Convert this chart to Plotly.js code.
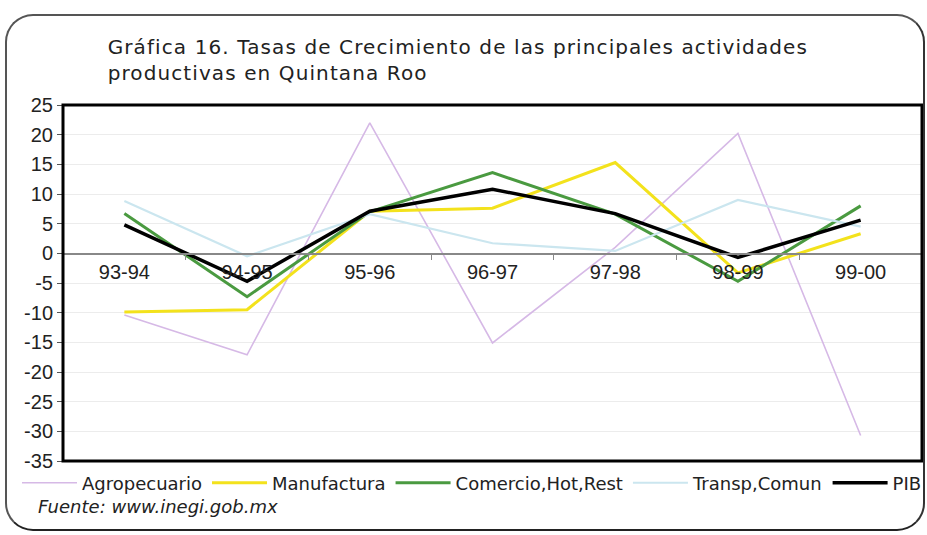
<!DOCTYPE html>
<html>
<head>
<meta charset="utf-8">
<script src="https://cdn.plot.ly/plotly-3.0.1.min.js"></script>
<style>
html,body{margin:0;padding:0;background:#fff;}
#wrap{position:relative;width:927px;height:535px;overflow:hidden;}
#frame{position:absolute;left:5px;top:14px;width:916px;height:513px;border:2px solid #555;border-bottom-color:#222;border-right-color:#333;border-radius:28px;pointer-events:none;}
#chart{position:absolute;left:0;top:0;width:927px;height:535px;}
#chart .gtitle{letter-spacing:1.1px;}
</style>
</head>
<body>
<div id="wrap">
<div id="chart"></div>
<div id="frame"></div>
</div>
<script>
const categories = ["93-94","94-95","95-96","96-97","97-98","98-99","99-00"];
const agropecuario = [-10.4, -17.1, 22.0, -15.1, 1.0, 20.2, -30.7];
const manufactura  = [-9.9, -9.5, 7.1, 7.6, 15.3, -3.3, 3.3];
const comercio     = [6.7, -7.3, 7.0, 13.6, 6.6, -4.7, 8.0];
const transp       = [8.8, -0.5, 6.6, 1.7, 0.4, 9.0, 4.5];
const pib          = [4.8, -4.7, 7.1, 10.8, 6.7, -0.7, 5.6];
const yTicks = [25,20,15,10,5,0,-5,-10,-15,-20,-25,-30,-35];

const font = "'DejaVu Sans', 'Noto Sans', sans-serif";
const narrow = "'Liberation Sans Narrow', 'Liberation Sans', Arial, sans-serif";

function tr(name, y, color, width){
  return {type:'scatter', mode:'lines', name:name, x:categories, y:y,
          line:{color:color, width:width}, hoverinfo:'skip'};
}
const data = [
  tr('Agropecuario', agropecuario, '#d6b9e6', 1.6),
  tr('Manufactura', manufactura, '#f3e21c', 3),
  tr('Comercio,Hot,Rest', comercio, '#4a9a40', 3),
  tr('Transp,Comun', transp, '#cbe6ef', 2.2),
  tr('PIB', pib, '#000000', 3.5)
];

const layout = {
  width:927, height:535,
  margin:{l:63, r:5, t:105, b:74},
  paper_bgcolor:'#ffffff', plot_bgcolor:'#ffffff',
  showlegend:true,
  title:{text:'Gráfica 16. Tasas de Crecimiento de las principales actividades<br>productivas en Quintana Roo',
         xref:'paper', x:0.052, xanchor:'left', yref:'container', y:0.9, yanchor:'top',
         font:{family:font, size:20, color:'#222'}},
  xaxis:{type:'category', range:[-0.5,6.5], anchor:'free', position:35/60,
         showline:true, linecolor:'#888', linewidth:1.5,
         ticks:'outside', tickson:'boundaries', ticklen:5, tickcolor:'#888',
         showgrid:false, zeroline:false,
         tickfont:{family:narrow, size:20, color:'#222'}, fixedrange:true},
  yaxis:{range:[-35,25], tickvals:yTicks, ticktext:yTicks.map(String),
         showline:false, ticks:'outside', ticklen:5, tickcolor:'#555',
         showgrid:true, gridcolor:'#ececec', gridwidth:1,
         zeroline:false,
         tickfont:{family:narrow, size:20, color:'#222'}, fixedrange:true},
  shapes:[
    {type:'rect', xref:'paper', yref:'paper', x0:0, x1:1, y0:0, y1:1,
     line:{color:'#000', width:3}, fillcolor:'rgba(0,0,0,0)', layer:'above'}
  ],
  legend:{orientation:'h', x:-0.052, xanchor:'left', y:-0.062, yanchor:'middle',
          font:{family:font, size:18, color:'#222'}, bgcolor:'rgba(0,0,0,0)',
          itemwidth:55, tracegroupgap:0},
  annotations:[
    {text:'<i>Fuente: www.inegi.gob.mx</i>', xref:'paper', yref:'paper',
     x:-0.031, y:-0.129, xanchor:'left', yanchor:'middle', showarrow:false,
     font:{family:font, size:18, color:'#222'}}
  ]
};
Plotly.newPlot('chart', data, layout, {displayModeBar:false, staticPlot:true});
</script>
</body>
</html>
